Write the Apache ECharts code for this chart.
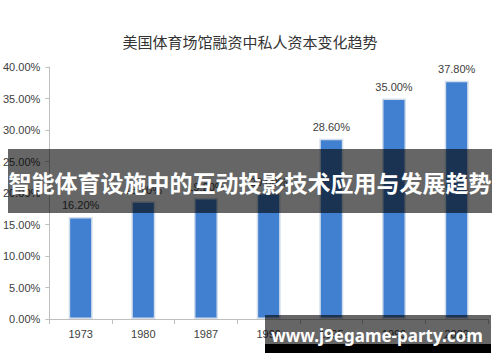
<!DOCTYPE html>
<html><head><meta charset="utf-8">
<script src="https://cdn.jsdelivr.net/npm/echarts@6/dist/echarts.min.js"></script>
<style>html,body{margin:0;padding:0;background:#fff}#c{width:500px;height:362px}</style>
</head><body><div id="c"></div>
<script>
const titleText = '美国体育场馆融资中私人资本变化趋势';
const categories = ['1973', '1980', '1987', '1990', '1995', '1999', '2002'];
const privateShare = [16.2, 18.7, 19.2, 20.0, 28.6, 35.0, 37.8];
const yTicks = [0, 5, 10, 15, 20, 25, 30, 35, 40];
const bannerText = '智能体育设施中的互动投影技术应用与发展趋势';
const watermarkText = 'www.j9egame-party.com';

const chart = echarts.init(document.getElementById('c'), null, {renderer: 'svg'});
chart.setOption({
  animation: false,
  backgroundColor: '#fff',
  title: {
    text: titleText, left: 'center', top: 29,
    textStyle: {fontSize: 15, fontWeight: 'normal', color: '#333', fontFamily: 'Noto Sans CJK SC'}
  },
  grid: {left: 48, right: 12, top: 67, bottom: 43},
  xAxis: {
    type: 'category', data: categories,
    axisLine: {lineStyle: {color: '#bfbfbf'}},
    axisTick: {show: true, length: 5, lineStyle: {color: '#bfbfbf'}},
    axisLabel: {color: '#404040', fontSize: 11, margin: 9, fontFamily: 'Liberation Sans'}
  },
  yAxis: {
    type: 'value', min: yTicks[0], max: yTicks[yTicks.length - 1], interval: 5,
    axisLine: {show: true, lineStyle: {color: '#bfbfbf'}},
    axisTick: {show: true, length: 4, lineStyle: {color: '#bfbfbf'}},
    splitLine: {show: false},
    axisLabel: {color: '#404040', fontSize: 11, margin: 9, fontFamily: 'Liberation Sans',
      formatter: v => v.toFixed(2) + '%'}
  },
  series: [{
    type: 'bar', data: privateShare, barWidth: 24,
    itemStyle: {color: '#4180d0', borderColor: '#d3deec', borderWidth: 1.5},
    label: {show: true, position: 'top', distance: 6, color: '#404040', fontSize: 11,
      fontFamily: 'Liberation Sans', formatter: p => p.value.toFixed(2) + '%'}
  }],
  graphic: [
    {type: 'rect', z: 100, shape: {x: 8, y: 149, width: 484, height: 64},
      style: {fill: 'rgba(0,0,0,0.6)'}},
    {type: 'text', z: 101, x: 250, y: 182,
      style: {text: bannerText, fill: '#fff', font: 'bold 23px "Noto Sans CJK SC"',
        textAlign: 'center', textVerticalAlign: 'middle'}},
    {type: 'rect', z: 100, shape: {x: 265, y: 315, width: 226, height: 29},
      style: {fill: 'rgba(0,0,0,0.6)'}},
    {type: 'rect', z: 100, shape: {x: 265, y: 344, width: 226, height: 9},
      style: {fill: '#000'}},
    {type: 'text', z: 101, x: 377, y: 335,
      style: {text: watermarkText, fill: '#fff', font: 'bold 17px "Noto Sans"',
        textAlign: 'center', textVerticalAlign: 'middle'}}
  ]
});
</script></body></html>
